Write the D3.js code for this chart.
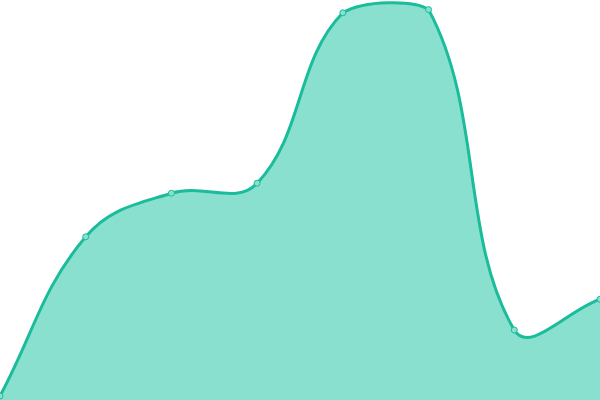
<!DOCTYPE html>
<html>
<head>
<meta charset="utf-8">
<script src="https://cdn.jsdelivr.net/npm/d3@7"></script>
<style>
  html, body { margin: 0; padding: 0; background: #fff; }
  svg { display: block; }
</style>
</head>
<body>
<div id="chart"></div>
<script>
  var width = 600,
    height = 400;

  // data
  var labels = ['A', 'B', 'C', 'D', 'E', 'F', 'G', 'H'];
  var values = [1, 40.8, 51.7, 54.2, 96.8, 97.6, 17.5, 25.2];

  var x = d3.scalePoint()
    .domain(labels)
    .range([0, width]);

  var y = d3.scaleLinear()
    .domain([0, 100])
    .range([height, 0]);

  var svg = d3.select('#chart')
    .append('svg')
    .attr('width', width)
    .attr('height', height);

  var pts = labels.map(function (l, i) {
    return { x: x(l), y: y(values[i]) };
  });

  // bezier control points, tension 0.4, capped to the plot area
  var tension = 0.4;
  pts.forEach(function (p, i) {
    var prev = pts[Math.max(i - 1, 0)],
      next = pts[Math.min(i + 1, pts.length - 1)],
      d01 = Math.hypot(p.x - prev.x, p.y - prev.y),
      d12 = Math.hypot(next.x - p.x, next.y - p.y),
      s01 = d01 / (d01 + d12) || 0,
      s12 = d12 / (d01 + d12) || 0,
      fa = tension * s01,
      fb = tension * s12;
    p.cpPrev = {
      x: clampX(p.x - fa * (next.x - prev.x)),
      y: clampY(p.y - fa * (next.y - prev.y))
    };
    p.cpNext = {
      x: clampX(p.x + fb * (next.x - prev.x)),
      y: clampY(p.y + fb * (next.y - prev.y))
    };
  });

  function clampX(v) { return Math.max(0, Math.min(width, v)); }
  function clampY(v) { return Math.max(0, Math.min(height, v)); }

  function splinePath(path) {
    path.moveTo(pts[0].x, pts[0].y);
    for (var i = 1; i < pts.length; i++) {
      var a = pts[i - 1], b = pts[i];
      path.bezierCurveTo(a.cpNext.x, a.cpNext.y, b.cpPrev.x, b.cpPrev.y, b.x, b.y);
    }
    return path;
  }

  var area = splinePath(d3.path());
  area.lineTo(pts[pts.length - 1].x, y(0));
  area.lineTo(pts[0].x, y(0));
  area.closePath();

  svg.append('path')
    .attr('d', area.toString())
    .attr('fill', '#8ae0cf');

  svg.append('path')
    .attr('d', splinePath(d3.path()).toString())
    .attr('fill', 'none')
    .attr('stroke', '#1abc9c')
    .attr('stroke-width', 3);

  svg.append('g')
    .selectAll('circle')
    .data(pts)
    .enter()
    .append('circle')
    .attr('cx', function (d) { return d.x; })
    .attr('cy', function (d) { return d.y; })
    .attr('r', 3)
    .attr('fill', '#8ae0cf')
    .attr('stroke', '#1abc9c')
    .attr('stroke-width', 1);
</script>
</body>
</html>
